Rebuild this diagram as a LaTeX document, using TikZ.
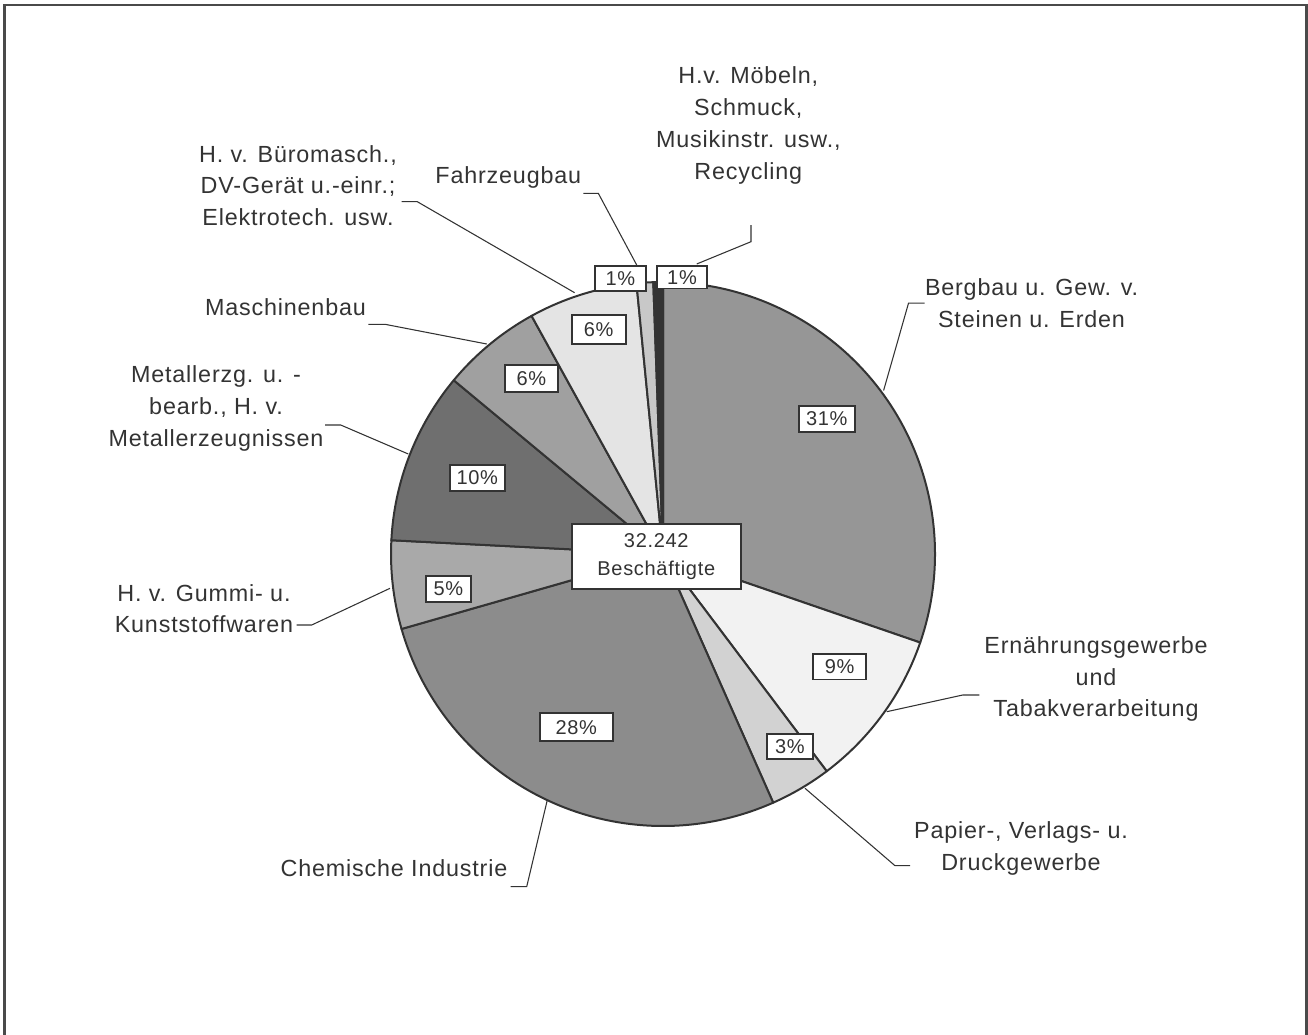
\documentclass[tikz,border=0pt]{standalone}
\usepackage{fontspec}
\setmainfont{Liberation Sans}[LetterSpace=3.5]
\definecolor{ink}{HTML}{333333}
\definecolor{frame}{HTML}{4A4A4A}
\definecolor{cBerg}{HTML}{969696}
\definecolor{cErn}{HTML}{F2F2F2}
\definecolor{cPap}{HTML}{D2D2D2}
\definecolor{cChem}{HTML}{8C8C8C}
\definecolor{cGum}{HTML}{A9A9A9}
\definecolor{cMet}{HTML}{6F6F6F}
\definecolor{cMasch}{HTML}{A0A0A0}
\definecolor{cBuero}{HTML}{E4E4E4}
\definecolor{cFahr}{HTML}{C8C8C8}
\definecolor{cMoeb}{HTML}{333333}
\newcommand\mkslice[3]{%
  \filldraw[slice, fill=#3] (663,554) -- ({663+272*sin(#1)},{554-272*cos(#1)})
    arc[start angle={#1-90}, end angle={#2-90}, radius=272] -- cycle;}
\begin{document}
\begin{tikzpicture}[x=0.75pt,y=-0.75pt,
  slice/.style={draw=ink, line width=1.5pt, line join=round},
  pct/.style={draw=ink, line width=1.4pt, fill=white, inner sep=0pt, text=ink,
    font=\fontsize{15}{18}\selectfont},
  lbl/.style={inner sep=0pt, text=ink, align=center,
    font=\fontsize{17.5}{23.8}\selectfont},
  leader/.style={draw=ink, line width=0.8pt}]
\useasboundingbox (0,0) rectangle (1308,1034);
\draw[frame, line width=1.6pt] (4.5,5) rectangle (1306.5,1045);

% pie slices (angles clockwise from 12 o'clock)
\mkslice{0}{109}{cBerg}
\mkslice{109}{143}{cErn}
\mkslice{143}{156.1}{cPap}
\mkslice{156.1}{254}{cChem}
\mkslice{254}{272.9}{cGum}
\mkslice{272.9}{309.7}{cMet}
\mkslice{309.7}{331.1}{cMasch}
\mkslice{331.1}{354.4}{cBuero}
\mkslice{354.4}{357.95}{cFahr}
\mkslice{357.95}{360}{cMoeb}

% outer labels
\node[lbl] (moeb) at (748.3,125.4) {H.v. Möbeln,\\Schmuck,\\Musikinstr. usw.,\\Recycling};
\node[lbl] (buero) at (298,185.5) {H. v. Büromasch.,\\DV-Gerät u.-einr.;\\Elektrotech. usw.};
\node[lbl, anchor=base] (fahr) at (508.3,183.3) {Fahrzeugbau};
\node[lbl, anchor=base] (masch) at (285.5,315) {Maschinenbau};
\node[lbl] (metall) at (216,408.5) {Metallerzg. u. -\\bearb., H. v.\\Metallerzeugnissen};
\node[lbl] (gummi) at (204,608.6) {H. v. Gummi- u.\\Kunststoffwaren};
\node[lbl, anchor=base] (chem) at (394,876.7) {Chemische Industrie};
\node[lbl] (papier) at (1021,848.3) {Papier-, Verlags- u.\\Druckgewerbe};
\node[lbl] (ern) at (1096,679.1) {Ernährungsgewerbe\\und\\Tabakverarbeitung};
\node[lbl] (berg) at (1031.5,303.3) {Bergbau u. Gew. v.\\Steinen u. Erden};

% leader coordinates
\coordinate (bergA) at (924.6,303.2); \coordinate (bergB) at (908.5,303.2); \coordinate (bergC) at (883.6,390.5);
\coordinate (ernA) at (979.3,695); \coordinate (ernB) at (962.7,695); \coordinate (ernC) at (886.7,711.7);
\coordinate (papA) at (910,865.7); \coordinate (papB) at (895,865.7); \coordinate (papC) at (805,788.3);
\coordinate (chemA) at (510.7,886.7); \coordinate (chemB) at (526.7,886.7); \coordinate (chemC) at (547.3,800);
\coordinate (gumA) at (296.7,625); \coordinate (gumB) at (311.7,625); \coordinate (gumC) at (390,588.3);
\coordinate (metA) at (325,425); \coordinate (metB) at (340.7,425); \coordinate (metC) at (408.3,454);
\coordinate (maA) at (368.3,324.3); \coordinate (maB) at (385,324.3); \coordinate (maC) at (486.7,344);
\coordinate (buA) at (401.7,201.7); \coordinate (buB) at (417.3,201.7); \coordinate (buC) at (574.6,292.7);
\coordinate (faA) at (583.3,193.3); \coordinate (faB) at (598.3,193.3); \coordinate (faC) at (636.7,265);
\coordinate (moA) at (751,225); \coordinate (moB) at (751,241.7); \coordinate (moC) at (696.7,264);

\draw[leader] (bergA) -- (bergB) -- (bergC);
\draw[leader] (ernA) -- (ernB) -- (ernC);
\draw[leader] (papA) -- (papB) -- (papC);
\draw[leader] (chemA) -- (chemB) -- (chemC);
\draw[leader] (gumA) -- (gumB) -- (gumC);
\draw[leader] (metA) -- (metB) -- (metC);
\draw[leader] (maA) -- (maB) -- (maC);
\draw[leader] (buA) -- (buB) -- (buC);
\draw[leader] (faA) -- (faB) -- (faC);
\draw[leader] (moA) -- (moB) -- (moC);

% percentage boxes
\node[pct, minimum width=42pt, minimum height=19.2pt] (p31) at (826.8,419) {31\%};
\node[pct, minimum width=40pt, minimum height=19.2pt] (p9) at (839.6,666.7) {9\%};
\node[pct, minimum width=34.5pt, minimum height=19pt] (p3) at (789.9,746.6) {3\%};
\node[pct, minimum width=55pt, minimum height=21pt] (p28) at (576.3,727.4) {28\%};
\node[pct, minimum width=34pt, minimum height=19.3pt] (p5) at (448.3,588.8) {5\%};
\node[pct, minimum width=41pt, minimum height=20pt] (p10) at (477.3,478) {10\%};
\node[pct, minimum width=39.4pt, minimum height=20pt] (p6a) at (531.3,378.3) {6\%};
\node[pct, minimum width=40.5pt, minimum height=22pt] (p6b) at (598.6,329.7) {6\%};
\node[pct, minimum width=38pt, minimum height=19pt] (p1a) at (620.3,278.5) {1\%};
\node[pct, minimum width=38pt, minimum height=17pt] (p1b) at (682,277.2) {1\%};
\node[pct, minimum width=126.75pt, minimum height=48.75pt, align=center,
  font=\fontsize{15}{21}\selectfont] (total) at (656.3,556.5) {32.242\\Beschäftigte};
\end{tikzpicture}
\end{document}
